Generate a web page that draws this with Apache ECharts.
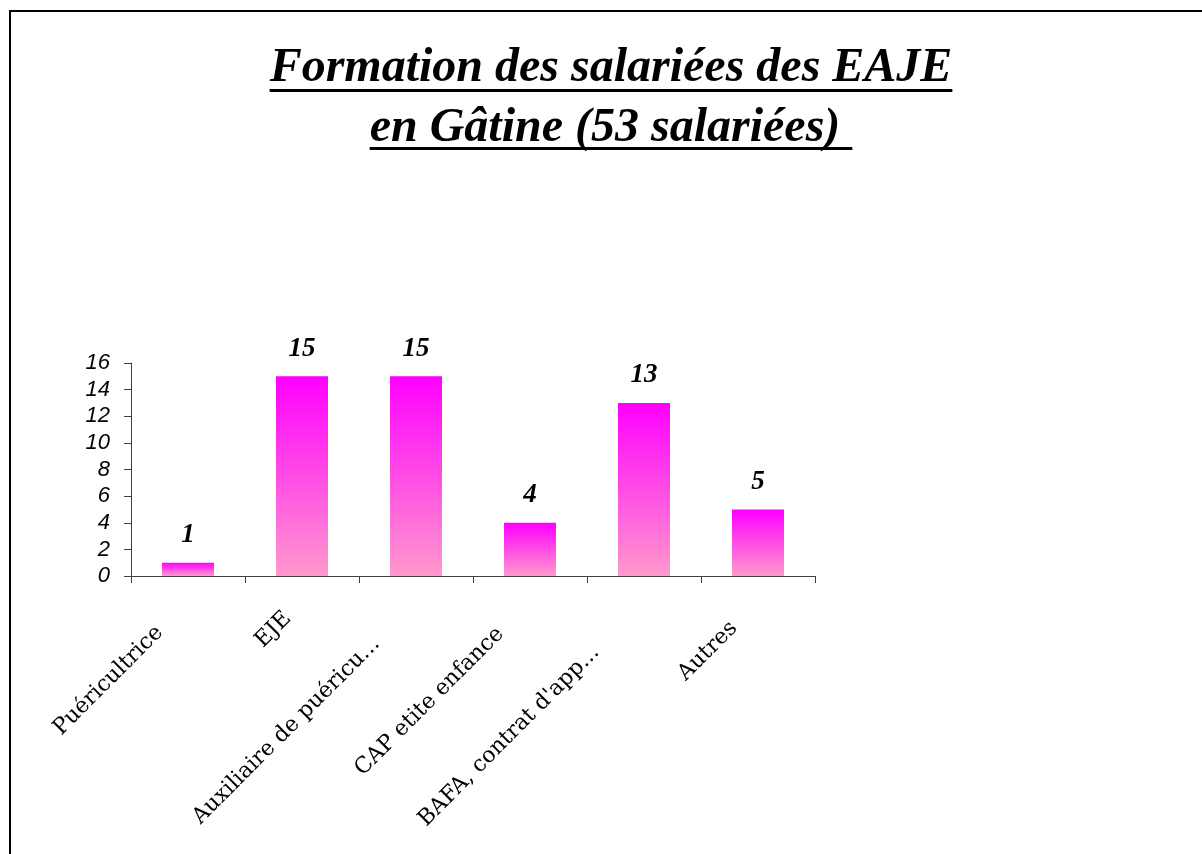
<!DOCTYPE html>
<html>
<head>
<meta charset="utf-8">
<title>Formation des salariées des EAJE</title>
<script src="https://cdn.jsdelivr.net/npm/echarts@6/dist/echarts.min.js"></script>
<style>
  html, body { margin: 0; padding: 0; background: #fff; }
  #chart { width: 1202px; height: 854px; }
</style>
</head>
<body>
<div id="chart"></div>
<script>
// données
const categories = [
  "Puéricultrice",
  "EJE",
  "Auxiliaire de puéricu...",
  "CAP etite enfance",
  "BAFA, contrat d'app...",
  "Autres",
];
const effectifs = [1, 15, 15, 4, 13, 5];
const yMax = 16;
const yStep = 2;

const titleLines = ["Formation des salariées des EAJE", "en Gâtine (53 salariées) "];

// décalage des étiquettes inclinées (façon Excel)
const labelPad = [40, 20, 56, 42, 68, 34];

function textWidth(txt, font) {
  const ctx = document.createElement("canvas").getContext("2d");
  ctx.font = font;
  return ctx.measureText(txt).width;
}

// taille du titre ajustée à la largeur de la 1re ligne (~689px)
const titleSize = Math.round(
  (48 * 689) / textWidth(titleLines[0], 'italic bold 48px "Liberation Serif"')
);
const titleFont = `italic bold ${titleSize}px "Liberation Serif"`;
const titleX = 611;

const chart = echarts.init(document.getElementById("chart"));

const titleGraphics = [];
const titleY = [69, 129]; // milieu des lignes
const underlineY = [89, 147];
titleLines.forEach((line, i) => {
  const w = textWidth(line, titleFont);
  titleGraphics.push({
    type: "text",
    x: titleX,
    y: titleY[i],
    style: {
      text: line,
      font: titleFont,
      fill: "#000",
      align: "center",
      verticalAlign: "middle",
    },
  });
  titleGraphics.push({
    type: "rect",
    shape: { x: titleX - w / 2, y: underlineY[i], width: w, height: 3 },
    style: { fill: "#000" },
  });
});

const option = {
  animation: false,
  graphic: [
    {
      // cadre de la diapositive
      type: "rect",
      shape: { x: 10, y: 11, width: 1300, height: 1000 },
      style: { fill: "none", stroke: "#000", lineWidth: 2 },
    },
    ...titleGraphics,
  ],
  grid: {
    left: 131,
    right: 387,
    top: 363,
    bottom: 278,
    containLabel: false,
  },
  xAxis: {
    type: "category",
    data: categories.map((c, i) => ({
      value: c,
      textStyle: { padding: [0, labelPad[i], 0, 0] },
    })),
    axisLine: { lineStyle: { color: "#404040", width: 1 } },
    axisTick: { show: true, length: 7, lineStyle: { color: "#404040" } },
    axisLabel: {
      interval: 0,
      rotate: 45,
      margin: 25,
      color: "#000",
      fontFamily: "DejaVu Serif",
      fontSize: 22,
    },
    splitLine: { show: false },
  },
  yAxis: {
    type: "value",
    min: 0,
    max: yMax,
    interval: yStep,
    axisLine: { show: true, lineStyle: { color: "#404040", width: 1 } },
    axisTick: { show: true, length: 7, lineStyle: { color: "#404040" } },
    axisLabel: {
      margin: 21,
      color: "#000",
      fontFamily: "Liberation Sans",
      fontStyle: "italic",
      fontSize: 22,
    },
    splitLine: { show: false },
  },
  series: [
    {
      type: "bar",
      data: effectifs,
      barWidth: 52,
      itemStyle: {
        color: new echarts.graphic.LinearGradient(0, 0, 0, 1, [
          { offset: 0, color: "#FF00FF" },
          { offset: 1, color: "#FF99CC" },
        ]),
      },
      label: {
        show: true,
        position: "top",
        distance: 14,
        color: "#000",
        fontFamily: "Liberation Serif",
        fontStyle: "italic",
        fontWeight: "bold",
        fontSize: 27,
      },
    },
  ],
};

chart.setOption(option);
</script>
</body>
</html>
